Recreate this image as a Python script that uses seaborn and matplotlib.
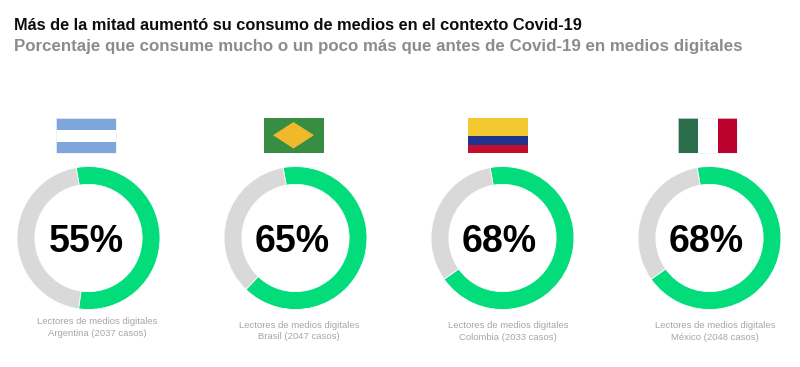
import matplotlib
matplotlib.use('Agg')
import matplotlib.pyplot as plt
from matplotlib.patches import Polygon, Rectangle
import seaborn as sns

# datos
paises = ['Argentina', 'Brasil', 'Colombia', 'México']
casos = [2037, 2047, 2033, 2048]
valores = [55, 65, 68, 68]

titulo = 'Más de la mitad aumentó su consumo de medios en el contexto Covid-19'
subtitulo = 'Porcentaje que consume mucho o un poco más que antes de Covid-19 en medios digitales'

verde = '#03DC7A'
gris = '#D9D9D9'

W, H = 800, 367

sns.set_theme(style='white')
plt.rcParams['font.family'] = ['Liberation Sans', 'DejaVu Sans']

fig = plt.figure(figsize=(W / 100, H / 100), dpi=100, facecolor='white')

# capa de fondo en pixeles (y hacia abajo)
bg = fig.add_axes([0, 0, 1, 1])
bg.set_xlim(0, W)
bg.set_ylim(H, 0)
bg.axis('off')

bg.text(14, 26, titulo, fontsize=11.75, fontweight='bold', color='#0d0d0d', va='center')
bg.text(14, 46.5, subtitulo, fontsize=12.2, fontweight='bold', color='#8c8c8c', va='center')

# posiciones de cada donut
centros = [88.5, 295.5, 502.5, 709.5]
radio = 71.5
cy = 238
texto_x = [86, 292.5, 499.5, 706.5]
nota_x = [97, 299, 508, 715]
nota_y = [322, 325.5, 326, 326]

for i in range(4):
    cx = centros[i]
    ax = fig.add_axes([(cx - radio) / W, 1 - (cy + radio) / H, 2 * radio / W, 2 * radio / H])
    ax.pie([valores[i], 100 - valores[i]], colors=[verde, gris], startangle=100, counterclock=False,
           radius=1, wedgeprops={'width': 0.25, 'edgecolor': 'white', 'linewidth': 0.6})
    ax.set_xlim(-1, 1)
    ax.set_ylim(-1, 1)

    bg.text(texto_x[i], cy, str(valores[i]) + '%', fontsize=27, fontweight='bold', color='black',
            ha='center', va='center_baseline')
    bg.text(nota_x[i], nota_y[i], 'Lectores de medios digitales', fontsize=6.8, color='#a6a6a6',
            ha='center', va='center')
    bg.text(nota_x[i], nota_y[i] + 11, paises[i] + ' (' + str(casos[i]) + ' casos)', fontsize=6.8,
            color='#a6a6a6', ha='center', va='center')


def franja(x, y, w, h, color):
    bg.add_patch(Rectangle((x, y), w, h, facecolor=color, edgecolor='none'))


# banderas
franja(55.5, 117.5, 60, 12, '#7FA6DC')
franja(55.5, 129.5, 60, 12, 'white')
franja(55.5, 141.5, 60, 11.5, '#7FA6DC')
bg.add_patch(Rectangle((55.5, 117.5), 60, 35.5, facecolor='none', edgecolor='#eef1f7', linewidth=0.6))

franja(263.5, 117.5, 60, 35.5, '#378E43')
bg.add_patch(Polygon([[273, 135.2], [293.5, 122], [314, 135.2], [293.5, 148.5]], facecolor='#F0B92C', edgecolor='none'))

franja(468, 117.5, 60, 18, '#F2CA30')
franja(468, 135.5, 60, 9, '#22328F')
franja(468, 144.5, 60, 8.5, '#C30F2E')

franja(678, 117.5, 19.5, 35.5, '#2B6E4B')
franja(697.5, 117.5, 20, 35.5, 'white')
franja(717.5, 117.5, 19.5, 35.5, '#BC022C')
bg.add_patch(Rectangle((678, 117.5), 59, 35.5, facecolor='none', edgecolor='#f0f0f0', linewidth=0.5))

fig.savefig('out.png', dpi=100)
